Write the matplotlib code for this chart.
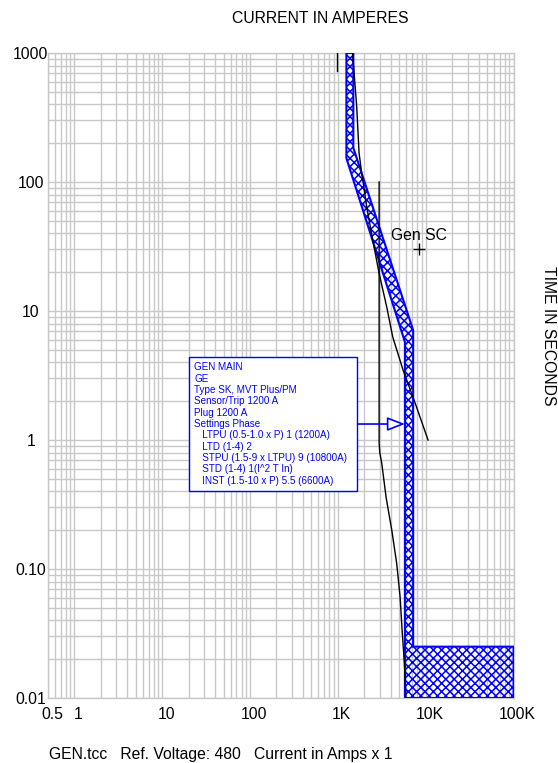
import numpy as np
import matplotlib
matplotlib.use("Agg")
import matplotlib.pyplot as plt
from matplotlib.ticker import FixedLocator, LogLocator, NullFormatter
from matplotlib.transforms import ScaledTranslation

plt.rcParams['font.family'] = ['Liberation Sans', 'DejaVu Sans']
plt.rcParams['hatch.linewidth'] = 1.1

# GEN MAIN breaker band (amps, seconds)
band_left_amps = [1250, 1250, 5800, 5800]
band_left_secs = [1000, 153, 5.75, 0.01]
band_right_amps = [1500, 1500, 7200, 7200, 100000, 100000]
band_right_secs = [1000, 184, 7.1, 0.025, 0.025, 0.01]

# generator damage curve
damage_amps = [1470, 1640, 1742, 1870, 2133, 2495, 2944, 3605, 4216, 5520, 7570, 10640]
damage_secs = [1000, 381, 168, 117, 64, 35.5, 19.7, 10.7, 6.28, 3.49, 1.94, 1.0]

# generator decrement curve
decr_amps = [2950, 2950, 3000, 3160, 3540, 4110, 4680, 5110, 5380, 5715, 5970]
decr_secs = [100, 0.95, 0.8, 0.66, 0.36, 0.2, 0.11, 0.061, 0.034, 0.0187, 0.01]

# short mark near the top
mark_amps = [980, 980]
mark_secs = [1000, 730]

gen_sc_amps = 8400
gen_sc_secs = 30

label_amps = 23
arrow_amps = 5800
arrow_secs = 1.33

x_ticks = [0.5, 1, 10, 100, 1000, 10000, 100000]
x_labels = ['0.5', '1', '10', '100', '1K', '10K', '100K']
y_ticks = [0.01, 0.1, 1, 10, 100, 1000]
y_labels = ['0.01', '0.10', '1', '10', '100', '1000']

legend_lines = [
    "GEN MAIN",
    "GE",
    "Type SK, MVT Plus/PM",
    "Sensor/Trip 1200 A",
    "Plug 1200 A",
    "Settings Phase",
    "   LTPU (0.5-1.0 x P) 1 (1200A)",
    "   LTD (1-4) 2",
    "   STPU (1.5-9 x LTPU) 9 (10800A)  ",
    "   STD (1-4) 1(I^2 T In)",
    "   INST (1.5-10 x P) 5.5 (6600A)",
]

fig = plt.figure(figsize=(5.58, 7.63), dpi=100)
ax = fig.add_axes([48 / 558, 65 / 763, 465.5 / 558, 645 / 763])
ax.set_xscale('log')
ax.set_yscale('log')
ax.set_xlim(0.5, 100000)
ax.set_ylim(0.01, 1000)

ax.xaxis.set_major_locator(FixedLocator(x_ticks))
ax.xaxis.set_ticklabels(x_labels)
ax.yaxis.set_major_locator(FixedLocator(y_ticks))
ax.yaxis.set_ticklabels(y_labels)
for axis in (ax.xaxis, ax.yaxis):
    axis.set_minor_locator(LogLocator(base=10, subs=np.arange(2, 10), numticks=100))
    axis.set_minor_formatter(NullFormatter())
ax.grid(which='both', color='#c8c8c8', lw=1.0)
ax.set_axisbelow(True)
ax.tick_params(which='both', length=0, labelsize=11.3)
ax.tick_params(axis='y', pad=12.5)
ax.tick_params(axis='x', pad=6.5)
for lab in ax.get_yticklabels():
    lab.set_ha('center')
for lab in ax.get_xticklabels():
    lab.set_transform(lab.get_transform() + ScaledTranslation(0.04, 0, fig.dpi_scale_trans))
for sp in ax.spines.values():
    sp.set_color('#c8c8c8')
    sp.set_linewidth(1.0)

# breaker band
poly_x = np.concatenate([band_left_amps, band_right_amps[::-1]])
poly_y = np.concatenate([band_left_secs, band_right_secs[::-1]])
ax.fill(poly_x, poly_y, facecolor='none', edgecolor='#0000ff', hatch='xxxx', lw=1.5, zorder=3)

ax.plot(damage_amps, damage_secs, color='black', lw=1.0, zorder=4)
ax.plot(decr_amps, decr_secs, color='black', lw=1.0, zorder=4)
ax.plot(mark_amps, mark_secs, color='black', lw=1.0, zorder=4)

ax.plot(gen_sc_amps, gen_sc_secs, marker='+', color='black', ms=8, mew=1.0, zorder=5)
ax.annotate("Gen SC", (gen_sc_amps, gen_sc_secs), xytext=(-20, 10), textcoords='offset points',
            ha='left', va='center', fontsize=11.3, zorder=5)

ax.annotate("\n".join(legend_lines), xy=(arrow_amps, arrow_secs), xytext=(label_amps, arrow_secs),
            textcoords='data', ha='left', va='center', fontsize=7.1, color='#0000ff',
            linespacing=1.17, zorder=6,
            bbox=dict(boxstyle='square,pad=0.5', fc='white', ec='#0000ff', lw=1.0),
            arrowprops=dict(arrowstyle='-|>,head_length=0.9,head_width=0.35', fc='white', ec='#0000ff',
                            lw=1.2, shrinkA=0, shrinkB=0, mutation_scale=12))

fig.text(320 / 558, 1 - 18.3 / 763, "CURRENT IN AMPERES", ha='center', va='center', fontsize=11.3)
fig.text(549 / 558, 1 - 336 / 763, "TIME IN SECONDS", ha='center', va='center', rotation=-90, fontsize=11.3)
fig.text(49 / 558, 1 - 755 / 763, "GEN.tcc   Ref. Voltage: 480   Current in Amps x 1",
         ha='left', va='center', fontsize=11.3)

fig.savefig("out.png", dpi=100)
